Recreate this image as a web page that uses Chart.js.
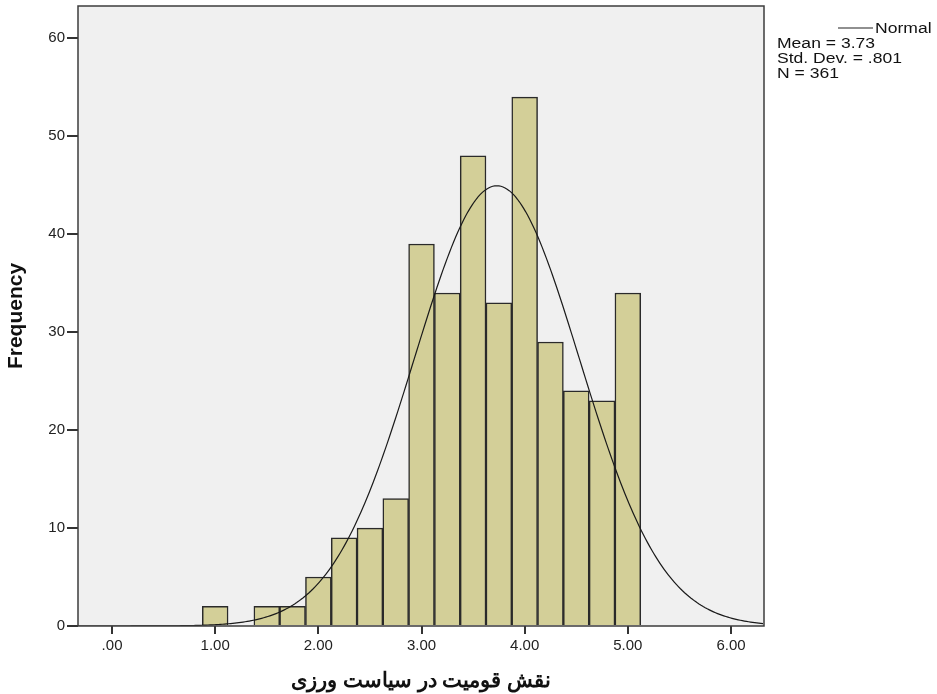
<!DOCTYPE html>
<html>
<head>
<meta charset="utf-8">
<script src="https://cdn.jsdelivr.net/npm/chart.js@4.4.0/dist/chart.umd.min.js"></script>
<style>
  html, body { margin: 0; padding: 0; background: #fff; }
  #wrap { width: 937px; height: 694px; position: relative; }
</style>
</head>
<body>
<div id="wrap"><canvas id="myChart" width="937" height="694"></canvas></div>
<script>
// histogram bins (centre of each bin) and counts
let binCenters = [1.00, 1.25, 1.50, 1.75, 2.00, 2.25, 2.50, 2.75, 3.00, 3.25, 3.50, 3.75, 4.00, 4.25, 4.50, 4.75, 5.00];
let counts     = [2, 0, 2, 2, 5, 9, 10, 13, 39, 34, 48, 33, 54, 29, 24, 23, 34];
let xTickLabels = ['.00', '1.00', '2.00', '3.00', '4.00', '5.00', '6.00'];
let yTickLabels = ['0', '10', '20', '30', '40', '50', '60'];

// stats shown in the legend, the normal curve is drawn from them
let mean = 3.73;
let stdDev = 0.801;
let n = 361;
let binWidth = 0.25;
let legendLines = ['Mean = 3.73', 'Std. Dev. = .801', 'N = 361'];

let xMin = -0.33, xMax = 6.32;

function normalCurve() {
  let pts = [];
  for (let x = xMin; x <= xMax + 1e-9; x += 0.02) {
    let z = (x - mean) / stdDev;
    let y = n * binWidth / (stdDev * Math.sqrt(2 * Math.PI)) * Math.exp(-0.5 * z * z);
    pts.push({ x: x, y: y });
  }
  return pts;
}

let font = "'Liberation Sans', Arial, sans-serif";

const frame = {
  id: 'frame',
  beforeDatasetsDraw(chart) {
    let a = chart.chartArea, c = chart.ctx;
    c.save();
    c.fillStyle = '#f0f0f0';
    c.fillRect(a.left, a.top, a.right - a.left, a.bottom - a.top);
    c.restore();
  },
  afterDraw(chart) {
    let a = chart.chartArea, c = chart.ctx;
    c.save();
    c.strokeStyle = '#3c3c3c';
    c.lineWidth = 1.5;
    c.strokeRect(a.left, a.top, a.right - a.left, a.bottom - a.top);

    // legend block on the right (text in the picture is a bit wide, so stretch it)
    c.strokeStyle = '#222';
    c.lineWidth = 1.2;
    c.beginPath();
    c.moveTo(838, 28);
    c.lineTo(873, 28);
    c.stroke();
    c.fillStyle = '#111';
    c.font = '14px ' + font;
    c.textBaseline = 'middle';
    c.textAlign = 'left';
    let sx = 125 / c.measureText('Std. Dev. = .801').width;
    c.save();
    c.translate(875, 29);
    c.scale(sx, 1);
    c.fillText('Normal', 0, 0);
    c.restore();
    legendLines.forEach(function (t, i) {
      c.save();
      c.translate(777, 44 + i * 15);
      c.scale(sx, 1);
      c.fillText(t, 0, 0);
      c.restore();
    });
    c.restore();
  }
};

window.onload = function () {
  let ctx = document.getElementById('myChart').getContext('2d');

  window.myChart = new Chart(ctx, {
    data: {
      datasets: [{
        type: 'line',
        label: 'Normal',
        data: normalCurve(),
        borderColor: '#1a1a1a',
        borderWidth: 1.2,
        pointRadius: 0,
        tension: 0,
        order: 0
      }, {
        type: 'bar',
        label: 'Frequency',
        data: binCenters.map(function (x, i) { return { x: x, y: counts[i] }; }),
        backgroundColor: '#d3cf98',
        borderColor: '#2a2a2a',
        borderWidth: 1.5,
        barPercentage: 1,
        categoryPercentage: 1,
        order: 1
      }]
    },
    options: {
      responsive: false,
      animation: false,
      layout: { padding: { top: 6, right: 173, left: 0, bottom: 0 } },
      plugins: { legend: { display: false }, tooltip: { enabled: false } },
      scales: {
        x: {
          type: 'linear',
          min: xMin,
          max: xMax,
          offset: false,
          afterFit: function (s) { s.height = 68; s.paddingLeft = 0; s.paddingRight = 0; },
          afterBuildTicks: function (s) {
            s.ticks = xTickLabels.map(function (l, i) { return { value: i }; });
          },
          ticks: {
            callback: function (v) { return xTickLabels[Math.round(v)]; },
            color: '#222',
            font: { family: font, size: 15 },
            padding: 3,
            maxRotation: 0,
            autoSkip: false
          },
          grid: { drawOnChartArea: false, offset: false, tickLength: 8, color: '#333', lineWidth: 2 },
          border: { display: false },
          title: {
            display: true,
            text: 'نقش قومیت در سیاست ورزی',
            color: '#111',
            font: { family: font, size: 21, weight: 'bold' },
            padding: { top: 0, bottom: 0 }
          }
        },
        y: {
          min: 0,
          max: 63.3,
          afterFit: function (s) { s.width = 78; s.paddingTop = 0; s.paddingBottom = 0; },
          afterBuildTicks: function (s) {
            s.ticks = yTickLabels.map(function (l, i) { return { value: i * 10 }; });
          },
          ticks: {
            callback: function (v) { return yTickLabels[Math.round(v / 10)]; },
            color: '#222',
            font: { family: font, size: 15 },
            padding: 2
          },
          grid: { drawOnChartArea: false, tickLength: 11, color: '#333', lineWidth: 2 },
          border: { display: false },
          title: {
            display: true,
            text: 'Frequency',
            color: '#111',
            font: { family: font, size: 21, weight: 'bold' },
            padding: { top: 4, bottom: 0 }
          }
        }
      }
    },
    plugins: [frame]
  });
};
</script>
</body>
</html>
